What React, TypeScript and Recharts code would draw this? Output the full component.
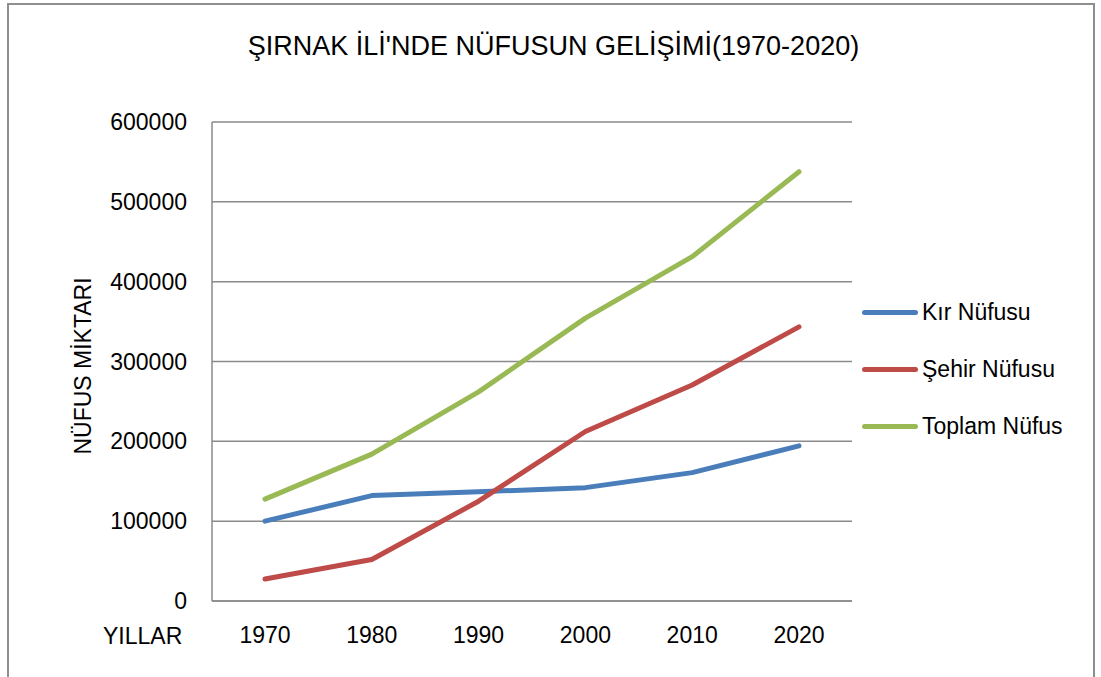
import React from 'react';
import { LineChart, Line, XAxis, YAxis, CartesianGrid, Legend } from 'recharts';

const years = ['1970', '1980', '1990', '2000', '2010', '2020'];
const kirNufusu = [100000, 132000, 136800, 142000, 160800, 194300];
const sehirNufusu = [27600, 52000, 125000, 212300, 270500, 343400];
const toplamNufus = [127600, 184000, 262000, 354300, 431300, 537700];
const yTicks = [0, 100000, 200000, 300000, 400000, 500000, 600000];

const seriesNames = ['Kır Nüfusu', 'Şehir Nüfusu', 'Toplam Nüfus'];
const seriesColors = ['#4a7ebb', '#be4b48', '#98b954'];
const seriesKeys = ['kir', 'sehir', 'toplam'];

const data = years.map((y, i) => ({
  year: y,
  kir: kirNufusu[i],
  sehir: sehirNufusu[i],
  toplam: toplamNufus[i],
}));

const FONT = '"Liberation Sans", Arial, sans-serif';

const LegendContent = () => (
  <div style={{ fontFamily: FONT, fontSize: 23, color: '#000' }}>
    {seriesNames.map((n, i) => (
      <div key={n} style={{ height: 57, display: 'flex', alignItems: 'center' }}>
        <div style={{ width: 56, height: 5, borderRadius: 3, background: seriesColors[i], marginRight: 4 }} />
        <span style={{ whiteSpace: 'nowrap' }}>{n}</span>
      </div>
    ))}
  </div>
);

export default function App() {
  return (
    <div style={{ position: 'absolute', left: 0, top: 0, width: 1101, height: 677, overflow: 'hidden', background: '#fff' }}>
      <div
        style={{
          position: 'absolute',
          left: 7,
          top: 3,
          width: 1088,
          height: 680,
          border: '2px solid #8e8e8e',
          borderBottom: 'none',
          boxSizing: 'border-box',
        }}
      />
      <div
        style={{
          position: 'absolute',
          left: 3,
          width: 1101,
          top: 33,
          textAlign: 'center',
          fontFamily: FONT,
          fontSize: 27,
          lineHeight: '27px',
          color: '#000',
          whiteSpace: 'nowrap',
        }}
      >
        ŞIRNAK İLİ'NDE NÜFUSUN GELİŞİMİ(1970-2020)
      </div>
      <div
        style={{
          position: 'absolute',
          left: 83,
          top: 366,
          transform: 'translate(-50%, -50%) rotate(-90deg)',
          fontFamily: FONT,
          fontSize: 23,
          lineHeight: '23px',
          color: '#000',
          whiteSpace: 'nowrap',
        }}
      >
        NÜFUS MİKTARI
      </div>
      <div
        style={{
          position: 'absolute',
          left: 103,
          top: 625,
          fontFamily: FONT,
          fontSize: 23,
          lineHeight: '23px',
          color: '#000',
          whiteSpace: 'nowrap',
        }}
      >
        YILLAR
      </div>
      <div style={{ position: 'absolute', left: 0, top: 0 }}>
        <LineChart
          width={1101}
          height={677}
          data={data}
          margin={{ top: 122, right: 19, bottom: 36, left: 112 }}
        >
          <CartesianGrid horizontal vertical={false} stroke="#8a8a8a" strokeWidth={1.5} />
          <XAxis
            dataKey="year"
            type="category"
            padding={{ left: 53, right: 53 }}
            height={40}
            tickLine={false}
            tickSize={0}
            tickMargin={26}
            axisLine={{ stroke: '#8a8a8a', strokeWidth: 1.5 }}
            tick={{ fill: '#000', fontSize: 23, fontFamily: FONT }}
            interval={0}
          />
          <YAxis
            type="number"
            domain={[0, 600000]}
            ticks={yTicks}
            interval={0}
            width={100}
            tickLine={false}
            tickSize={0}
            tickMargin={25}
            axisLine={{ stroke: '#8a8a8a', strokeWidth: 1.5 }}
            tick={{ fill: '#000', fontSize: 23, fontFamily: FONT }}
          />
          <Legend
            layout="vertical"
            align="right"
            verticalAlign="top"
            width={230}
            content={() => <LegendContent />}
            wrapperStyle={{ left: 862, top: 284, right: 'auto', width: 230 }}
          />
          {seriesKeys.map((k, i) => (
            <Line
              key={k}
              type="linear"
              dataKey={k}
              name={seriesNames[i]}
              stroke={seriesColors[i]}
              strokeWidth={5}
              strokeLinecap="round"
              strokeLinejoin="round"
              dot={false}
              activeDot={false}
              isAnimationActive={false}
            />
          ))}
        </LineChart>
      </div>
    </div>
  );
}
